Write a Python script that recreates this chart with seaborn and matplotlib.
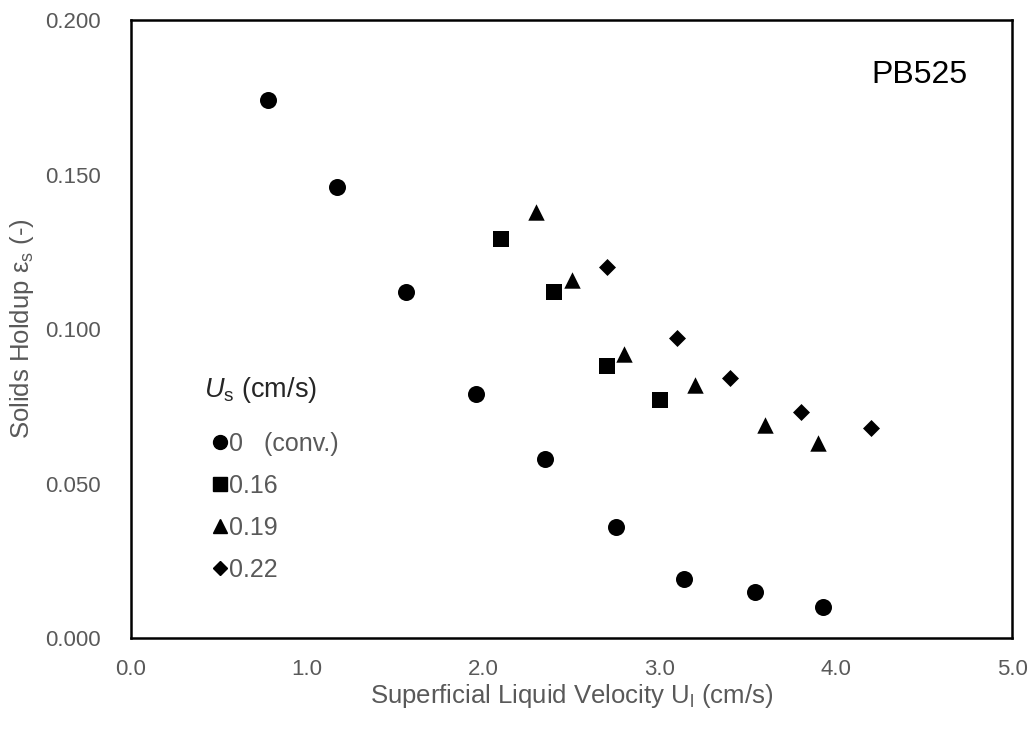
import numpy as np
import pandas as pd
import seaborn as sns
import matplotlib
matplotlib.use("Agg")
import matplotlib.pyplot as plt
from matplotlib.lines import Line2D

sns.set_theme(style="white")
plt.rcParams["font.family"] = ["Liberation Sans", "DejaVu Sans"]
plt.rcParams["mathtext.fontset"] = "custom"
plt.rcParams["mathtext.rm"] = "Liberation Sans"
plt.rcParams["mathtext.it"] = "Liberation Sans:italic"

# Solids holdup vs superficial liquid velocity for each solids velocity
ul_conv = [0.78, 1.17, 1.56, 1.96, 2.35, 2.75, 3.14, 3.54, 3.93]
eps_conv = [0.174, 0.146, 0.112, 0.079, 0.058, 0.036, 0.019, 0.015, 0.010]

ul_016 = [2.10, 2.40, 2.70, 3.00]
eps_016 = [0.129, 0.112, 0.088, 0.077]

ul_019 = [2.30, 2.50, 2.80, 3.20, 3.60, 3.90]
eps_019 = [0.138, 0.116, 0.092, 0.082, 0.069, 0.063]

ul_022 = [2.70, 3.10, 3.40, 3.80, 4.20]
eps_022 = [0.120, 0.097, 0.084, 0.073, 0.068]

series_labels = ["0   (conv.)", "0.16", "0.19", "0.22"]
series_markers = ["o", "s", "^", "D"]
series_sizes = [150, 140, 140, 75]

frames = []
for lab, xs, ys in zip(series_labels,
                       [ul_conv, ul_016, ul_019, ul_022],
                       [eps_conv, eps_016, eps_019, eps_022]):
    frames.append(pd.DataFrame({"Ul": xs, "eps": ys, "Us": lab}))
df = pd.concat(frames, ignore_index=True)

fig = plt.figure(figsize=(10.35, 7.38), dpi=100)
ax = fig.add_axes([0.1266, 0.1355, 0.8512, 0.8374])

for lab, mk, sz in zip(series_labels, series_markers, series_sizes):
    sns.scatterplot(data=df[df["Us"] == lab], x="Ul", y="eps", marker=mk,
                    s=sz, color="black", edgecolor="black", linewidth=0,
                    ax=ax, legend=False)

ax.set_xlim(0, 5)
ax.set_ylim(0, 0.2)
xt = np.arange(0, 5.01, 1.0)
yt = np.arange(0, 0.201, 0.05)
ax.set_xticks(xt)
ax.set_xticklabels([f"{v:.1f}" for v in xt])
ax.set_yticks(yt)
ax.set_yticklabels([f"{v:.3f}" for v in yt])
ax.tick_params(axis="both", length=0, labelsize=16, labelcolor="#595959")
ax.tick_params(axis="x", pad=15)
ax.tick_params(axis="y", pad=22)
for s in ax.spines.values():
    s.set_color("black")
    s.set_linewidth(1.8)

ax.set_xlabel(r"Superficial Liquid Velocity U$_\mathrm{l}$ (cm/s)",
              fontsize=18.5, color="#595959")
ax.set_ylabel(r"Solids Holdup ε$_\mathrm{s}$ (-)",
              fontsize=18.5, color="#595959")
ax.xaxis.set_label_coords(0.5, -0.094)
ax.yaxis.set_label_coords(-0.124, 0.5)
ax.xaxis.label.set_va("center")
ax.yaxis.label.set_va("center")

ax.text(0.949, 0.911, "PB525", transform=ax.transAxes, fontsize=23,
        color="black", ha="right", va="center")

handles = [Line2D([], [], linestyle="none", marker=mk, color="black",
                  markersize=ms)
           for mk, ms in zip(series_markers, [10, 9.5, 10, 7])]
leg = ax.legend(handles, series_labels, title=r"$U_\mathrm{s}$ (cm/s)",
                loc="upper left", bbox_to_anchor=(0.083, 0.425),
                frameon=False, fontsize=18, title_fontsize=19.5,
                handlelength=1.3, handletextpad=-0.3, labelspacing=0.72,
                borderaxespad=0, borderpad=0)
leg._legend_box.align = "left"
leg._legend_box.sep = 19
for t in leg.get_texts():
    t.set_color("#595959")

fig.savefig("out.png", dpi=100)
